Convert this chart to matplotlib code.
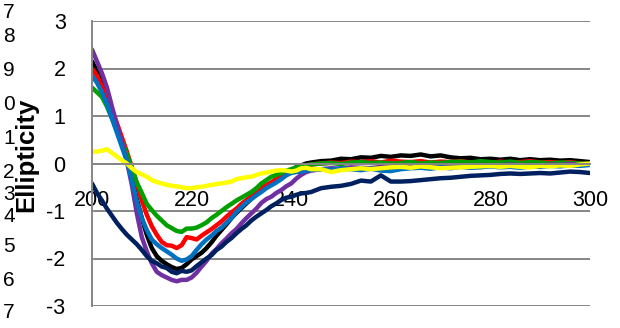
import matplotlib

matplotlib.use("Agg")
import matplotlib.pyplot as plt

# wavelength (nm): 1 nm steps up to 244, then 2 nm steps to 300
wavelength = list(range(200, 245)) + list(range(246, 301, 2))

black = [2.15, 1.95, 1.75, 1.45, 1.1, 0.75, 0.42, 0.1, -0.3, -0.75,
         -1.15, -1.5, -1.78, -1.95, -2.05, -2.12, -2.18, -2.22, -2.2, -2.12,
         -2.02, -1.95, -1.88, -1.78, -1.66, -1.52, -1.4, -1.28, -1.15, -1.04,
         -0.94, -0.84, -0.74, -0.64, -0.56, -0.48, -0.41, -0.33, -0.26, -0.2,
         -0.14, -0.08, -0.04, 0.0, 0.02,
         0.05, 0.06, 0.1, 0.09, 0.13, 0.12, 0.16, 0.14, 0.17, 0.16,
         0.19, 0.15, 0.17, 0.13, 0.11, 0.12, 0.09, 0.1, 0.08, 0.1,
         0.07, 0.09, 0.07, 0.08, 0.06, 0.07, 0.05, 0.03]

red = [2.0, 1.85, 1.62, 1.4, 1.12, 0.85, 0.55, 0.25, -0.08, -0.42,
       -0.78, -1.08, -1.32, -1.5, -1.65, -1.72, -1.73, -1.78, -1.72, -1.55,
       -1.57, -1.6, -1.52, -1.45, -1.38, -1.3, -1.22, -1.12, -1.03, -0.95,
       -0.85, -0.77, -0.68, -0.6, -0.5, -0.45, -0.4, -0.33, -0.27, -0.2,
       -0.15, -0.1, -0.07, -0.04, -0.02,
       0.0, 0.02, 0.01, 0.04, 0.03, 0.05, 0.02, 0.06, 0.04, 0.03,
       0.05, 0.02, 0.04, 0.03, 0.05, 0.02, 0.03, 0.01, 0.04, 0.02,
       0.03, 0.05, 0.02, 0.03, 0.01, 0.03, 0.0, -0.02]

green = [1.6, 1.5, 1.4, 1.2, 0.95, 0.7, 0.45, 0.2, -0.1, -0.4,
         -0.62, -0.85, -0.98, -1.1, -1.2, -1.3, -1.36, -1.42, -1.44, -1.37,
         -1.37, -1.35, -1.3, -1.24, -1.15, -1.08, -1.0, -0.92, -0.85, -0.78,
         -0.72, -0.66, -0.6, -0.52, -0.42, -0.35, -0.28, -0.24, -0.2, -0.15,
         -0.12, -0.08, -0.06, -0.04, -0.02,
         0.0, 0.01, -0.01, 0.02, 0.03, 0.01, 0.02, 0.0, 0.01, 0.03,
         0.0, 0.02, 0.01, 0.03, 0.04, 0.02, 0.05, 0.03, 0.02, 0.04,
         0.01, 0.03, 0.02, 0.0, 0.02, 0.01, 0.0, -0.01]

blue = [1.85, 1.7, 1.5, 1.25, 0.95, 0.65, 0.35, 0.05, -0.35, -0.8,
        -1.15, -1.4, -1.6, -1.7, -1.78, -1.85, -1.92, -2.0, -2.05, -2.02,
        -1.95, -1.82, -1.7, -1.6, -1.52, -1.42, -1.35, -1.25, -1.15, -1.02,
        -0.92, -0.82, -0.75, -0.67, -0.6, -0.52, -0.46, -0.4, -0.33, -0.25,
        -0.2, -0.18, -0.17, -0.15, -0.14,
        -0.12, -0.13, -0.1, -0.12, -0.14, -0.11, -0.15, -0.16, -0.12, -0.1,
        -0.09, -0.11, -0.08, -0.1, -0.07, -0.09, -0.08, -0.06, -0.08, -0.07,
        -0.09, -0.06, -0.07, -0.05, -0.06, -0.04, -0.05, -0.03]

purple = [2.4, 2.15, 1.9, 1.6, 1.2, 0.82, 0.45, 0.05, -0.45, -1.05,
          -1.55, -1.85, -2.1, -2.28, -2.35, -2.4, -2.45, -2.48, -2.45, -2.45,
          -2.4, -2.3, -2.17, -2.05, -1.9, -1.8, -1.68, -1.58, -1.47, -1.38,
          -1.26, -1.15, -1.05, -0.95, -0.83, -0.75, -0.7, -0.62, -0.56, -0.48,
          -0.42, -0.32, -0.24, -0.18, -0.15,
          -0.12, -0.1, -0.11, -0.08, -0.09, -0.1, -0.07, -0.08, -0.06, -0.08,
          -0.05, -0.07, -0.06, -0.04, -0.06, -0.05, -0.03, -0.05, -0.04, -0.02,
          -0.04, -0.03, -0.05, -0.02, -0.03, -0.01, -0.03, -0.02]

yellow = [0.25, 0.25, 0.27, 0.3, 0.22, 0.15, 0.07, 0.0, -0.1, -0.18,
          -0.23, -0.28, -0.35, -0.39, -0.42, -0.45, -0.47, -0.48, -0.5, -0.52,
          -0.52, -0.5, -0.49, -0.47, -0.45, -0.43, -0.42, -0.4, -0.38, -0.33,
          -0.31, -0.29, -0.28, -0.24, -0.21, -0.19, -0.17, -0.15, -0.14, -0.15,
          -0.17, -0.15, -0.1, -0.09, -0.12,
          -0.12, -0.18, -0.14, -0.12, -0.1, -0.12, -0.1, -0.08, -0.07, -0.09,
          -0.06, -0.08, -0.1, -0.09, -0.08, -0.07, -0.06, -0.05, -0.07, -0.05,
          -0.07, -0.08, -0.05, -0.06, -0.04, -0.05, -0.02, 0.0]

navy = [-0.42, -0.62, -0.78, -0.95, -1.1, -1.25, -1.38, -1.5, -1.6, -1.7,
        -1.82, -1.95, -2.05, -2.1, -2.17, -2.2, -2.28, -2.31, -2.26, -2.28,
        -2.25, -2.16, -2.08, -2.0, -1.93, -1.82, -1.75, -1.65, -1.57, -1.47,
        -1.38, -1.3, -1.2, -1.12, -1.05, -0.98, -0.9, -0.84, -0.77, -0.72,
        -0.7, -0.66, -0.63, -0.62, -0.6,
        -0.52, -0.49, -0.47, -0.43, -0.36, -0.38, -0.25, -0.38, -0.38, -0.37,
        -0.35, -0.33, -0.31, -0.3, -0.28, -0.26, -0.25, -0.24, -0.22, -0.21,
        -0.22, -0.21, -0.2, -0.21, -0.19, -0.17, -0.18, -0.2]

x_ticks = [200, 220, 240, 260, 280, 300]
y_ticks = [-3, -2, -1, 0, 1, 2, 3]
y_label = "Ellipticity"
left_digits = ["7", "8", "9", "0", "1", "2", "3", "4", "5", "6", "7"]

# drawing order, bottom to top
series = [
    (black, "#000000"),
    (red, "#FF0000"),
    (green, "#00A000"),
    (purple, "#7030A0"),
    (blue, "#0070C0"),
    (navy, "#002060"),
    (yellow, "#FFFF00"),
]

W, H = 620, 328
GRID = "#868686"
plt.rcParams["font.family"] = ["Liberation Sans", "DejaVu Sans"]
plt.rcParams["axes.unicode_minus"] = False  # plain hyphen like Excel

fig = plt.figure(figsize=(W / 100, H / 100), dpi=100)
ax = fig.add_axes([92 / W, 1 - 306 / H, (590 - 92) / W, (306 - 21) / H])

for values, color in series:
    ax.plot(wavelength, values, color=color, linewidth=3.2,
            solid_joinstyle="round", solid_capstyle="round")

ax.set_xlim(200, 300)
ax.set_ylim(-3, 3)
ax.set_xticks(x_ticks)
ax.set_yticks(y_ticks)
ax.yaxis.grid(True, color=GRID, linewidth=1.4)
ax.set_axisbelow(True)

for side in ("top", "right"):
    ax.spines[side].set_visible(False)
ax.spines["left"].set_color(GRID)
ax.spines["left"].set_linewidth(1.4)
ax.spines["bottom"].set_position(("data", 0))
ax.spines["bottom"].set_color(GRID)
ax.spines["bottom"].set_linewidth(1.4)

ax.tick_params(axis="x", length=0, pad=19, labelsize=15.5)
ax.tick_params(axis="y", length=0, pad=19, labelsize=15.5)

# broken axis-title text at the far left, as in the source chart
digit_y = [13, 36, 70, 104, 139, 172, 195, 217, 247, 280, 313]
for d, yp in zip(left_digits, digit_y):
    fig.text(9 / W, 1 - yp / H, d, ha="center", va="center", fontsize=15)
fig.text(26 / W, 1 - 155 / H, y_label, rotation=90, ha="center",
         va="center", fontsize=18.5, fontweight="bold")

fig.savefig("out.png", dpi=100)
